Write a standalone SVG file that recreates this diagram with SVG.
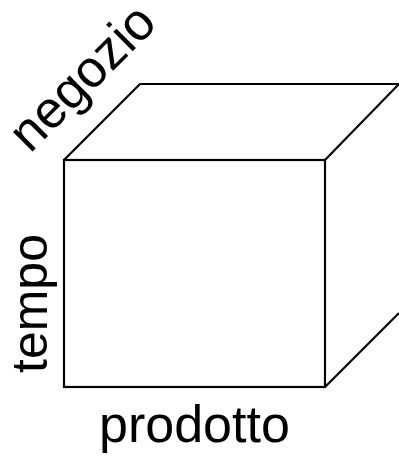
<svg xmlns="http://www.w3.org/2000/svg" width="399" height="457" viewBox="0 0 399 457">
<style>
.edge{fill:none;stroke:#000;stroke-width:2.2;stroke-linejoin:miter}
.lbl{font-family:"Liberation Sans",Arial,sans-serif;font-size:52px;fill:#000}
</style>
<rect width="399" height="457" fill="#fff"/>
<g id="connectors">
<path class="edge" d="M64,160 L140,84 L399,84 L325,160"/>
<path class="edge" d="M325,387 L399,313"/>
</g>
<g id="cube-front">
<rect class="edge" x="64" y="160" width="261" height="227"/>
</g>
<g id="label-negozio">
<text class="lbl" transform="translate(30,154) rotate(-45)">negozio</text>
</g>
<g id="label-tempo">
<text class="lbl" style="font-size:50px" transform="translate(47,373) rotate(-90)">tempo</text>
</g>
<g id="label-prodotto">
<text class="lbl" x="99" y="442">prodotto</text>
</g>
</svg>
